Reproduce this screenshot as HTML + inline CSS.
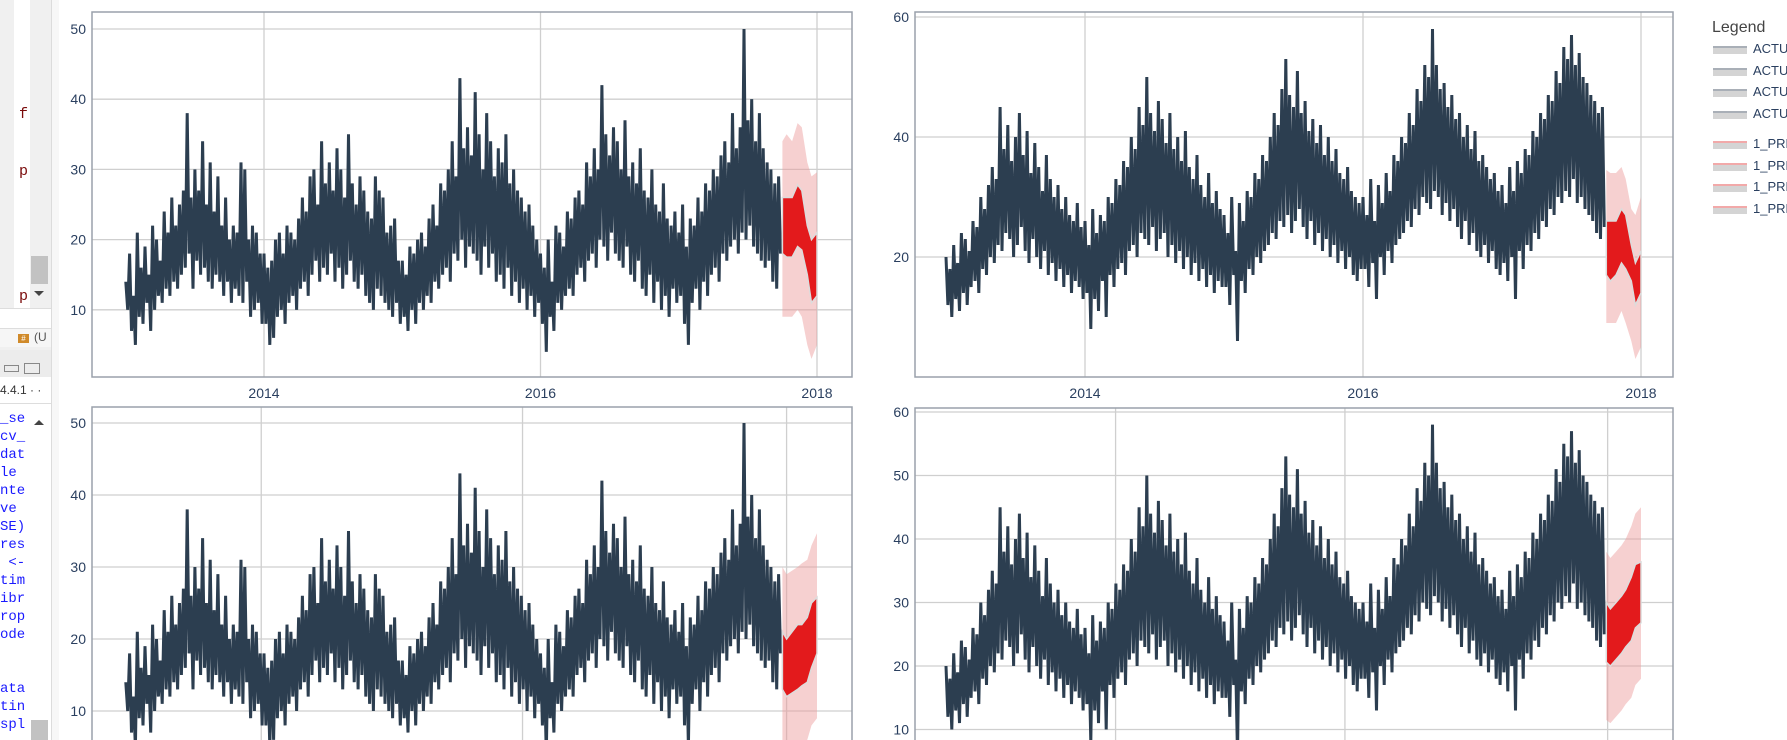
<!DOCTYPE html>
<html><head><meta charset="utf-8">
<style>
html,body{margin:0;padding:0;width:1787px;height:740px;overflow:hidden;background:#fff;font-family:"Liberation Sans",sans-serif;}
#side{position:absolute;left:0;top:0;width:59px;height:740px;background:#f0f0f0;overflow:hidden;}
.mono{font-family:"Liberation Mono",monospace;}
</style></head><body>
<div id="side">
  <div style="position:absolute;left:0;top:0;width:51px;height:328px;background:#f0f0f0;">
    <div style="position:absolute;left:14px;top:0;width:16px;height:308px;background:#fff;"></div>
    <div class="mono" style="position:absolute;left:19px;top:106px;font-size:15px;color:#7a0a0a;">f</div>
    <div class="mono" style="position:absolute;left:19px;top:163px;font-size:15px;color:#7a0a0a;">p</div>
    <div class="mono" style="position:absolute;left:19px;top:288px;font-size:15px;color:#7a0a0a;">p</div>
    <div style="position:absolute;left:31px;top:256px;width:17px;height:28px;background:#c2c2c2;"></div>
    <div style="position:absolute;left:34px;top:291px;width:0;height:0;border-left:5px solid transparent;border-right:5px solid transparent;border-top:5px solid #444;"></div>
    <div style="position:absolute;left:0;top:308px;width:51px;height:20px;background:#fff;border-top:1px solid #ddd;"></div>
    <div style="position:absolute;left:0;top:328px;width:51px;height:18px;background:#f6f6f6;border-top:1px solid #ddd;"></div>
    <div style="position:absolute;left:18px;top:334px;width:11px;height:9px;background:#d08a2a;color:#fff;font-size:8px;line-height:9px;text-align:center;">#</div>
    <div style="position:absolute;left:34px;top:330px;font-size:12px;color:#555;">(U</div>
  </div>
  <div style="position:absolute;left:0;top:350px;width:51px;height:390px;background:#fff;overflow:hidden;">
    <div style="position:absolute;left:0;top:0;width:51px;height:27px;background:#ececec;"></div>
    <div style="position:absolute;left:4px;top:15px;width:13px;height:5px;border:1px solid #888;"></div>
    <div style="position:absolute;left:24px;top:13px;width:14px;height:9px;border:1px solid #888;"></div>
    <div style="position:absolute;left:0;top:27px;width:51px;height:26px;background:#fff;border-bottom:1px solid #ddd;font-size:12px;color:#333;line-height:26px;">4.4.1 · ·</div>
    <div class="mono" style="position:absolute;left:0;top:60px;font-size:14px;line-height:18px;color:#1a1aff;white-space:pre;">_se
cv_
dat
le
nte
ve
SE)
res
 &lt;-
tim
ibr
rop
ode


ata
tin
spl</div>
    <div style="position:absolute;left:34px;top:70px;width:0;height:0;border-left:5px solid transparent;border-right:5px solid transparent;border-bottom:5px solid #444;"></div>
    <div style="position:absolute;left:31px;top:370px;width:17px;height:20px;background:#c2c2c2;"></div>
  </div>
  <div style="position:absolute;left:51px;top:0;width:8px;height:740px;background:#f7f7f7;border-left:1px solid #dcdcdc;"></div>
</div>

<svg id="chart" width="1787" height="740" style="position:absolute;left:0;top:0;"></svg>

<div style="position:absolute;left:1712px;top:19px;width:75px;overflow:hidden;">
  <div style="font-size:16px;color:#444;height:22px;">Legend</div>
  <div id="legend-items"></div>
</div>

<script>
// ---- data ----
const actualAHigh=[14,18,12,21,16,19,15,22,20,17,24,21,26,22,25,27,38,26,30,27,34,25,31,24,29,22,26,20,22,21,31,30,20,22,21,18,
18,16,17,20,21,18,22,21,20,23,26,24,29,30,25,34,28,31,27,33,30,26,35,28,25,29,27,24,23,29,27,26,21,22,23,17,
17,15,19,18,20,21,19,23,25,22,28,27,30,34,29,43,33,36,32,41,35,30,38,34,29,33,31,35,28,30,27,26,24,25,22,20,
18,16,20,14,22,21,19,24,23,26,27,25,31,29,33,30,42,35,32,36,34,30,37,29,31,28,33,27,26,30,25,24,28,23,22,24,
21,25,19,23,22,26,24,28,27,30,29,32,34,31,38,33,36,50,37,40,34,38,33,31,30,28,29];
const actualALow=[10,7,5,9,8,11,7,10,12,11,13,12,14,13,15,16,18,13,17,15,16,14,13,15,14,12,14,11,13,12,11,14,9,10,11,8,
8,5,6,9,10,8,11,12,10,13,14,12,15,17,14,16,15,18,14,16,13,15,17,14,13,15,12,11,10,13,12,11,10,9,11,8,
9,7,10,8,11,10,12,11,14,13,15,16,14,18,17,20,16,19,18,17,15,19,16,18,14,15,13,16,12,14,11,13,10,12,9,11,
8,4,9,7,11,10,12,13,12,15,16,14,17,18,16,20,19,17,21,18,17,16,19,15,14,17,13,12,15,11,14,10,12,9,13,11,
12,8,5,11,13,10,14,12,15,16,14,18,17,19,20,18,21,20,22,19,18,17,16,17,14,13,18];
const actualBHigh=[20,18,22,19,24,23,21,26,25,30,28,32,35,33,45,38,42,36,40,44,37,41,34,39,35,31,37,33,30,32,28,30,27,26,29,25,
26,22,28,24,27,26,30,29,33,32,36,35,40,38,45,42,50,44,41,46,43,39,44,38,40,36,41,35,33,37,32,30,34,29,31,28,
27,24,30,21,29,26,31,30,34,33,37,36,40,44,42,48,53,47,45,51,44,46,41,43,39,42,37,40,36,38,34,33,35,31,30,29,
30,27,33,26,32,29,34,31,37,36,40,39,44,42,48,46,52,50,58,52,48,49,45,47,43,44,40,42,38,41,36,37,35,33,34,31,
32,29,35,31,36,34,38,37,41,40,44,43,47,46,51,49,55,53,57,52,54,50,49,47,46,44,45];
const actualBLow=[12,10,13,11,14,12,15,16,14,18,17,20,19,22,21,24,23,20,22,25,21,19,23,20,18,21,17,19,16,18,15,17,14,16,15,13,
14,8,13,11,16,10,17,15,18,19,17,21,22,20,24,23,22,25,21,23,24,20,22,19,21,18,20,17,19,16,18,15,17,14,16,15,
15,12,17,6,16,14,18,17,20,19,21,22,24,23,26,25,27,24,26,28,25,23,26,22,24,21,23,20,22,19,21,18,20,17,16,18,
18,15,19,13,20,17,21,19,22,23,24,26,25,28,27,30,29,28,31,30,27,29,26,28,25,23,26,22,24,21,20,22,19,21,18,17,
19,16,20,13,21,18,22,21,24,23,26,25,28,27,30,29,31,30,33,29,30,28,27,26,24,23,25];
const startYear=2013.0;
const pointsPerYear=36;
const fcDates=[2017.75,2017.78,2017.82,2017.86,2017.89,2017.93,2017.96,2018.0];
const fcTLhi95=[34,35,34,36.6,36,31,29,29.6], fcTLhi80=[26,26,26,27.8,27,22,20,21], fcTLlo80=[18,17.5,17.5,19,18.5,15,11,12], fcTLlo95=[9,9,9,10,9,5,3,5];
const fcTRhi95=[34.5,34,34,35,33,28,27,30], fcTRhi80=[26,26,26,28,27,22,19,21], fcTRlo80=[17,16,17,19,18,16,12,14], fcTRlo95=[9,9,9,11,9,6,3,5];
const fcBLhi95=[30,29,29.5,30,30.5,31,33,34.7], fcBLhi80=[21,20,21,22,22,23,25,25.8], fcBLlo80=[13,12,12.5,13,13.5,14,16,18], fcBLlo95=[4,4,5,5,5.5,6,8,9];
const fcBRhi95=[38,37,38,39,40,42,44,45], fcBRhi80=[30,29,30,31,32,34,36,36.4], fcBRlo80=[20.6,20,21,22,23,24,26,26.8], fcBRlo95=[11.5,11,12,13,14,15,17,18];
const yTicksTL=[10,20,30,40,50], yTicksTR=[20,40,60], yTicksBL=[10,20,30,40,50], yTicksBR=[10,20,30,40,50,60];
const xTickYearsTop=[2014,2016,2018];
const xTickLabels=["2014","2016","2018"];
const xGridBL=[2013.98,2015.87,2017.78];
const xGridBR=[2014.22,2015.87,2017.76];
const legendLabels=["ACTUAL_1","ACTUAL_2","ACTUAL_3","ACTUAL_4","1_PRED_1","1_PRED_2","1_PRED_3","1_PRED_4"];

// ---- rendering ----
const NS="http://www.w3.org/2000/svg";
const svg=document.getElementById('chart');
function mk(tag,attrs,parent){const e=document.createElementNS(NS,tag);for(const k in attrs)e.setAttribute(k,attrs[k]);(parent||svg).appendChild(e);return e;}

const panels=[
 {name:'tl',box:[92,12,852,377],x2014:264,pxYear:138.25,yRef:50,yRefPx:29,pxUnit:7.02,yt:yTicksTL,xg:xTickYearsTop,labels:true,hi:actualAHigh,lo:actualALow,fc:[fcTLhi95,fcTLhi80,fcTLlo80,fcTLlo95]},
 {name:'tr',box:[915,12,1673,377],x2014:1085,pxYear:139,yRef:60,yRefPx:17,pxUnit:6.0,yt:yTicksTR,xg:xTickYearsTop,labels:true,hi:actualBHigh,lo:actualBLow,fc:[fcTRhi95,fcTRhi80,fcTRlo80,fcTRlo95]},
 {name:'bl',box:[92,407,852,745],x2014:264,pxYear:138.25,yRef:50,yRefPx:423,pxUnit:7.2,yt:yTicksBL,xg:xGridBL,labels:false,hi:actualAHigh,lo:actualALow,fc:[fcBLhi95,fcBLhi80,fcBLlo80,fcBLlo95]},
 {name:'br',box:[915,408,1673,745],x2014:1085,pxYear:139,yRef:60,yRefPx:412,pxUnit:6.35,yt:yTicksBR,xg:xGridBR,labels:false,hi:actualBHigh,lo:actualBLow,fc:[fcBRhi95,fcBRhi80,fcBRlo80,fcBRlo95]}
];

panels.forEach(p=>{
  const X=t=>p.x2014+(t-2014)*p.pxYear;
  const Y=v=>p.yRefPx+(p.yRef-v)*p.pxUnit;
  const [x0,y0,x1,y1]=p.box;
  const g=mk('g',{});
  
  
  const clipId='clip-'+p.name;
  const cp=mk('clipPath',{id:clipId},g);mk('rect',{x:x0,y:y0,width:x1-x0,height:y1-y0},cp);
  mk('rect',{x:x0,y:y0,width:x1-x0,height:y1-y0,fill:'#fff'},g);
  p.yt.forEach(v=>{
    const l=mk('line',{x1:x0,x2:x1,y1:Y(v),y2:Y(v),stroke:'#cfcfcf','stroke-width':1.3},g);
    
    
    const t=mk('text',{x:x0-6,y:Y(v)+5,'text-anchor':'end','font-size':14,fill:'#2a3f5f'},g);
    t.textContent=v;
    
    
  });
  p.xg.forEach((yr,i)=>{
    const l=mk('line',{x1:X(yr),x2:X(yr),y1:y0,y2:y1,stroke:'#cfcfcf','stroke-width':1.3},g);
    
    
    if(p.labels){
      const t=mk('text',{x:X(yr),y:y1+21,'text-anchor':'middle','font-size':14,fill:'#2a3f5f'},g);
      t.textContent=xTickLabels[i];
      
      
    }
  });
  const inner=mk('g',{'clip-path':'url(#'+clipId+')'},g);
  let d='';
  for(let i=0;i<p.hi.length;i++){
    const t=startYear+i/pointsPerYear;
    d+=(i?'L':'M')+X(t).toFixed(1)+','+Y(p.hi[i]).toFixed(1);
    d+='L'+X(t+0.5/pointsPerYear).toFixed(1)+','+Y(p.lo[i]).toFixed(1);
  }
  const line=mk('path',{d:d,fill:'none',stroke:'#2c3e50','stroke-width':3,'stroke-linejoin':'bevel'},inner);
  
  
  const band=(up,lo,fill,name,stroke)=>{
    let s='';
    fcDates.forEach((t,i)=>{s+=(i?'L':'M')+X(t).toFixed(1)+','+Y(up[i]).toFixed(1);});
    for(let i=fcDates.length-1;i>=0;i--)s+='L'+X(fcDates[i]).toFixed(1)+','+Y(lo[i]).toFixed(1);
    const e=mk('path',{d:s+'Z',fill:fill,stroke:stroke||'none','stroke-width':1.5},inner);
    
    
  };
  band(p.fc[0],p.fc[3],'rgba(236,150,150,0.45)','forecast-95-band');
  band(p.fc[1],p.fc[2],'#e31a1c','forecast-80-band','#dcdcdc');
  mk('rect',{x:x0,y:y0,width:x1-x0,height:y1-y0,fill:'none',stroke:'#9aa1ab','stroke-width':1.5},g);
});

const li=document.getElementById('legend-items');
legendLabels.forEach((lab,i)=>{
  const row=document.createElement('div');
  
  
  row.style.cssText='position:relative;height:21.5px;'+(i==4?'margin-top:9px;':'');
  const sw=document.createElement('div');
  sw.style.cssText='position:absolute;left:1px;top:5px;width:34px;height:6px;background:#d4d4d4;border-top:2px solid '+(i<4?'#a9afb7':'#f2a9a9')+';';
  const tx=document.createElement('div');
  tx.style.cssText='position:absolute;left:41px;top:0;font-size:13px;color:#2a3f5f;white-space:nowrap;';
  tx.textContent=lab;
  row.appendChild(sw);row.appendChild(tx);li.appendChild(row);
});
</script>
</body></html>
